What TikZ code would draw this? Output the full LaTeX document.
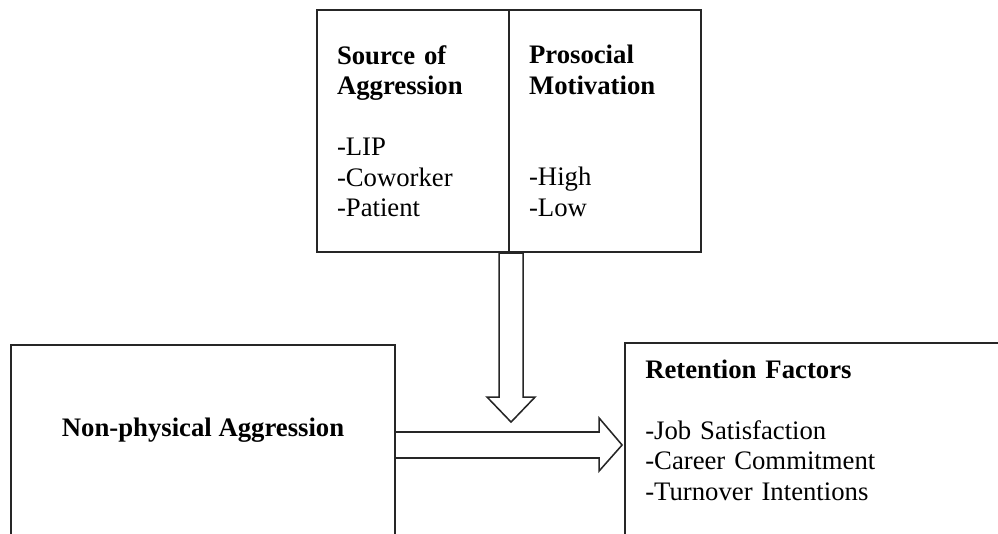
\documentclass[tikz,border=0pt]{standalone}
\usepackage{fontspec}
\setmainfont{Liberation Serif}
\usetikzlibrary{positioning,calc}

\tikzset{
  frame/.style={draw=black!85, line width=1.4pt, inner sep=0pt, outer sep=0pt, anchor=north west},
  blockarrow/.style={draw=black!85, line width=1.1pt, fill=white, line join=miter},
}

\begin{document}
\begin{tikzpicture}[x=0.025cm, y=-0.025cm, font=\fontsize{19}{21.7}\selectfont]
      \clip (0,0) rectangle (998,533);

      %% moderators on top
      \node (src) [frame, minimum width=4.8cm, minimum height=6.05cm, text width=3.8cm, align=left, inner xsep=0.5cm] at (317,10)
        {\textbf{Source of}\\\textbf{Aggression}\\[21.7pt]-LIP\\-Coworker\\-Patient};
      \node (pro) [frame, minimum width=4.8cm, minimum height=6.05cm, text width=3.8cm, align=left, inner xsep=0.5cm, right=0pt of src]
        {\textbf{Prosocial}\\\textbf{Motivation}\\[43.4pt]-High\\-Low};

      %% predictor and outcome
      \node (npa) [frame, minimum width=9.6cm, minimum height=6.4cm] at (11,345) {};
      \node (npatext) [anchor=base, font=\fontsize{19}{21.7}\selectfont\bfseries] at ($(npa.north)+(0,91)$) {Non-physical Aggression};
      \node (ret) [frame, minimum width=12cm, minimum height=6.4cm] at (625,343) {};
      \node (rettext) [anchor=base west, text width=8cm, align=left, inner sep=0pt] at ($(ret.north west)+(20,35)$)
        {\textbf{Retention Factors}\\[21.7pt]-Job Satisfaction\\-Career Commitment\\-Turnover Intentions};

      \draw[blockarrow] ($(src.south east)+(-10,1)$) -- ++(0,144) -- ++(-12,0) -- ++(24,25)
        -- ++(24,-25) -- ++(-12,0) -- ++(0,-144) -- cycle;
      \draw[blockarrow] ($(npa.north east)+(0,87)$) -- ++(204,0) -- ++(0,-14) -- ++(23,27)
        -- ++(-23,26) -- ++(0,-13) -- ++(-204,0) -- cycle;

    \end{tikzpicture}
\end{document}
